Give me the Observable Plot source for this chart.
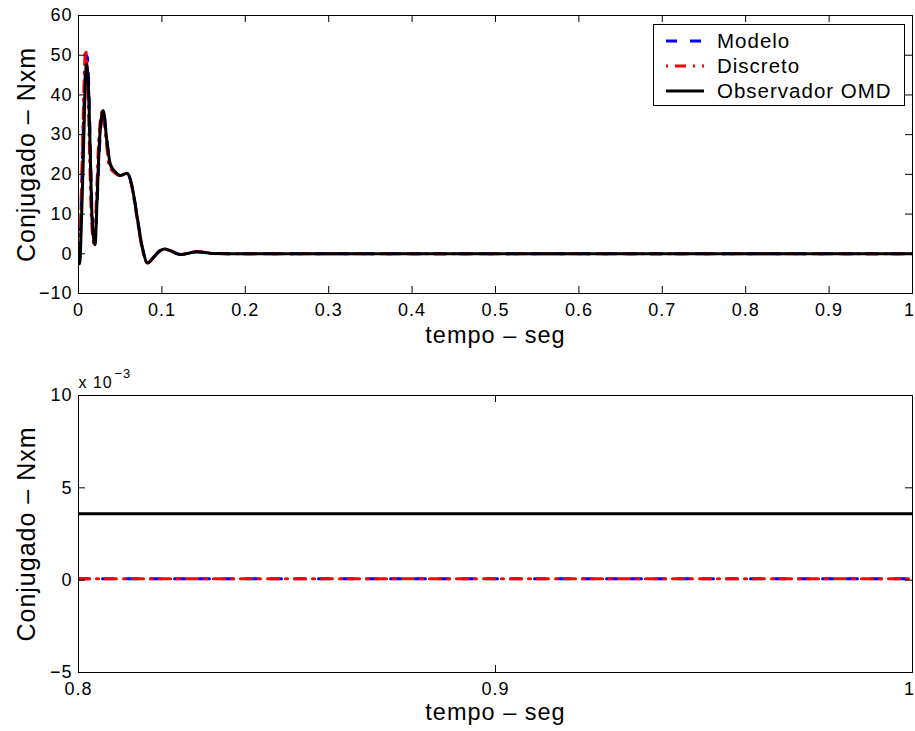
<!DOCTYPE html>
<html>
<head>
<meta charset="utf-8">
<script src="https://cdn.jsdelivr.net/npm/d3@7"></script>
<script src="https://cdn.jsdelivr.net/npm/@observablehq/plot@0.6"></script>
<style>
  body { margin: 0; background: #fff; }
  #fig { position: relative; width: 915px; height: 731px; font-family: "Liberation Sans", Arial, sans-serif; }
  #fig svg { display: block; }
  .legend { position: absolute; left: 653px; top: 24px; width: 250px; height: 80px;
            border: 1px solid #000; background: #fff; font-size: 20.5px; letter-spacing: 1px; }
  .legend .row { position: absolute; left: 0; height: 24px; width: 100%; }
  .legend .row svg { position: absolute; left: 11px; top: 7px; }
  .legend .row span { position: absolute; left: 63px; top: 0; line-height: 24px; }
</style>
</head>
<body>
<div id="fig"></div>
<script>
// Torque response (N·m) against time (s) for the plant model, its discretised
// version and the observer estimate.
const modeloT = [0, 0.002, 0.004, 0.006, 0.008, 0.0104, 0.0125, 0.0145, 0.0165, 0.0196, 0.0225, 0.0255, 0.0298, 0.034, 0.038, 0.0444, 0.050, 0.0584, 0.0644, 0.0704, 0.0764, 0.083, 0.090, 0.098, 0.103, 0.110, 0.122, 0.142, 0.160, 0.200, 0.500, 1.0];
const modeloV = [0, 5, 18, 33, 45, 49.8, 41, 24, 9, 2.4, 14, 28, 36, 28.5, 22.5, 20.4, 19.7, 20.2, 16.8, 9.2, 1.7, -2.3, -0.9, 0.8, 1.2, 0.8, -0.2, 0.5, 0.1, 0, 0, 0];

const discretoT = [0, 0.0015, 0.003, 0.005, 0.0068, 0.0084, 0.0112, 0.0134, 0.0156, 0.019, 0.0215, 0.0243, 0.0288, 0.0332, 0.037, 0.0435, 0.0495, 0.058, 0.064, 0.070, 0.076, 0.0825, 0.0895, 0.0975, 0.1025, 0.110, 0.122, 0.142, 0.160, 0.200, 0.500, 1.0];
const discretoV = [0, 3, 12, 29, 44, 51.4, 42, 24, 8.5, 2.3, 14, 28.5, 36, 28.5, 22, 20.4, 19.7, 20.3, 16.8, 9.2, 1.7, -2.3, -0.9, 0.8, 1.2, 0.8, -0.2, 0.5, 0.1, 0, 0, 0];

const observadorT = [0, 0.0015, 0.0032, 0.0056, 0.0076, 0.0096, 0.0124, 0.0144, 0.0164, 0.0198, 0.0224, 0.0252, 0.0296, 0.034, 0.038, 0.0444, 0.050, 0.0584, 0.0644, 0.0704, 0.0764, 0.083, 0.090, 0.098, 0.103, 0.110, 0.122, 0.142, 0.160, 0.200, 0.500, 1.0];
const observadorV = [-2.5, -2.5, 5.9, 22.7, 39.4, 47.8, 39.4, 22.7, 8.4, 2.3, 14.3, 28.5, 36.1, 28.5, 22.7, 20.5, 19.7, 20.3, 16.8, 9.2, 1.7, -2.3, -0.9, 0.8, 1.2, 0.8, -0.2, 0.5, 0.1, 0, 0, 0];

// Steady-state detail, 0.8 s to 1 s (values in N·m)
const detalheT = [0.8, 0.9, 1.0];
const detalheModelo = [0.00008, 0.00008, 0.00008];
const detalheDiscreto = [0.00008, 0.00008, 0.00008];
const detalheObservador = [0.0036, 0.0036, 0.0036];

// Axis ticks and their labels
const topXTicks = [0, 0.1, 0.2, 0.3, 0.4, 0.5, 0.6, 0.7, 0.8, 0.9, 1];
const topXLabels = ["0", "0.1", "0.2", "0.3", "0.4", "0.5", "0.6", "0.7", "0.8", "0.9", "1"];
const topYTicks = [-10, 0, 10, 20, 30, 40, 50, 60];
const topYLabels = ["\u221210", "0", "10", "20", "30", "40", "50", "60"];
const botXTicks = [0.8, 0.9, 1];
const botXLabels = ["0.8", "0.9", "1"];
const botYTicks = [-0.005, 0, 0.005, 0.01];
const botYLabels = ["\u22125", "0", "5", "10"];

const seriesNames = ["Modelo", "Discreto", "Observador OMD"];
const seriesColors = ["#0000ff", "#ff0000", "#000000"];
const seriesDash = ["11,13", "11,7,2,7", null];

const xTitle = "tempo \u2013 seg";
const yTitle = "Conjugado \u2013 Nxm";

const toRows = (T, V) => T.map((t, i) => ({t, v: V[i]}));
const fontFamily = "'Liberation Sans', Arial, Helvetica, sans-serif";
const TICK = 7;

function panel({width, height, marginTop, marginBottom, marginLeft, marginRight, titleOffset,
                xDomain, yDomain, xTicks, xLabels, yTicks, yLabels, series, extra = []}) {
  const innerW = width - marginLeft - marginRight;
  const innerH = height - marginTop - marginBottom;
  const xl = new Map(xTicks.map((d, i) => [d, xLabels[i]]));
  const yl = new Map(yTicks.map((d, i) => [d, yLabels[i]]));
  const lastX = xTicks[xTicks.length - 1];
  return Plot.plot({
    width, height, marginTop, marginBottom, marginLeft, marginRight,
    style: {fontFamily, fontSize: "18px", color: "black", background: "white", letterSpacing: "1px", overflow: "visible"},
    x: {domain: xDomain, axis: null},
    y: {domain: yDomain, axis: null},
    marks: [
      // data lines: model, discrete, observer (observer on top)
      ...series.map((rows, i) => Plot.line(rows, {
        x: "t", y: "v", stroke: seriesColors[i], strokeWidth: 3,
        strokeDasharray: seriesDash[i], curve: "monotone-x", clip: true
      })),
      Plot.frame({stroke: "black", strokeWidth: 1}),
      // inward ticks on all four sides
      Plot.tickX(xTicks, {x: d => d, insetTop: innerH - TICK, stroke: "black"}),
      Plot.tickX(xTicks, {x: d => d, insetBottom: innerH - TICK, stroke: "black"}),
      Plot.tickY(yTicks, {y: d => d, insetRight: innerW - TICK, stroke: "black"}),
      Plot.tickY(yTicks, {y: d => d, insetLeft: innerW - TICK, stroke: "black"}),
      Plot.axisX(xTicks.slice(0, -1), {tickSize: 0, tickPadding: 10, tickFormat: d => xl.get(d), label: null}),
      // the last label sits against the right edge of the figure
      Plot.axisX([lastX], {tickSize: 0, tickPadding: 10, tickFormat: d => xl.get(d), label: null, dx: -3}),
      Plot.axisY(yTicks, {tickSize: 0, tickPadding: 6, tickFormat: d => yl.get(d), label: null}),
      Plot.text([xTitle], {frameAnchor: "bottom", textAnchor: "middle", lineAnchor: "middle", dy: titleOffset, fontSize: 23.5}),
      Plot.text([yTitle], {frameAnchor: "left", textAnchor: "middle", lineAnchor: "middle", rotate: -90, dx: -52, fontSize: 25}),
      ...extra
    ]
  });
}

const fig = document.getElementById("fig");

const upperPanel = panel({
  width: 915, height: 360, marginTop: 15, marginBottom: 67, marginLeft: 78, marginRight: 3, titleOffset: 42,
  xDomain: [0, 1], yDomain: [-10, 60],
  xTicks: topXTicks, xLabels: topXLabels, yTicks: topYTicks, yLabels: topYLabels,
  series: [toRows(modeloT, modeloV), toRows(discretoT, discretoV), toRows(observadorT, observadorV)]
});
fig.appendChild(upperPanel);

const lowerPanel = panel({
  width: 915, height: 371, marginTop: 35, marginBottom: 59, marginLeft: 78, marginRight: 3, titleOffset: 40,
  xDomain: [0.8, 1], yDomain: [-0.005, 0.01],
  xTicks: botXTicks, xLabels: botXLabels, yTicks: botYTicks, yLabels: botYLabels,
  series: [toRows(detalheT, detalheModelo), toRows(detalheT, detalheDiscreto), toRows(detalheT, detalheObservador)],
  extra: [
    Plot.text(["x 10"], {frameAnchor: "top-left", textAnchor: "start", lineAnchor: "middle", dx: 0, dy: -13, fontSize: 16}),
    Plot.text(["\u22123"], {frameAnchor: "top-left", textAnchor: "start", lineAnchor: "middle", dx: 36, dy: -22, fontSize: 13})
  ]
});
fig.appendChild(lowerPanel);

// Legend box inside the upper panel
const legend = document.createElement("div");
legend.className = "legend";
seriesNames.forEach((name, i) => {
  const row = document.createElement("div");
  row.className = "row";
  row.style.top = (4 + i * 25) + "px";
  const dash = seriesDash[i] ? `stroke-dasharray="${i === 1 ? "2,7,11,7" : seriesDash[i]}"` : "";
  row.innerHTML = `<svg width="40" height="10"><line x1="1" y1="5" x2="39" y2="5" stroke="${seriesColors[i]}" stroke-width="3" ${dash}/></svg><span>${name}</span>`;
  legend.appendChild(row);
});
fig.appendChild(legend);
</script>
</body>
</html>
